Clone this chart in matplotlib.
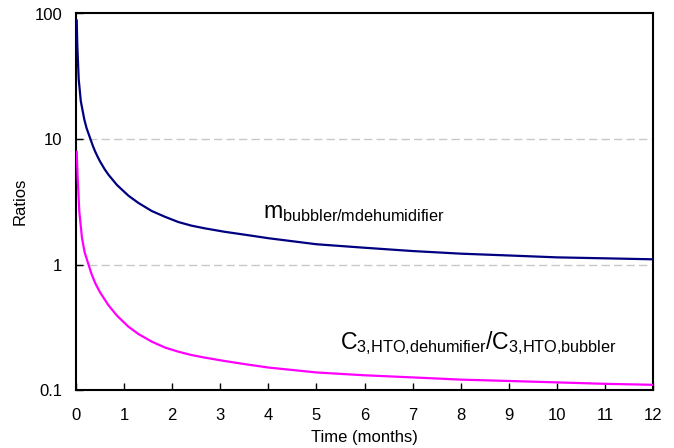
import matplotlib
matplotlib.use("Agg")
import matplotlib.pyplot as plt
from matplotlib.ticker import FixedLocator, NullLocator, FixedFormatter

plt.rcParams['font.family'] = ['Liberation Sans', 'DejaVu Sans']
plt.rcParams['mathtext.fontset'] = 'custom'
plt.rcParams['mathtext.rm'] = 'Liberation Sans'
plt.rcParams['mathtext.it'] = 'Liberation Sans'

# Data
t_m = [0.015, 0.027, 0.056, 0.10, 0.173, 0.22, 0.30, 0.35, 0.395, 0.45, 0.50,
       0.60, 0.672, 0.85, 1.088, 1.3, 1.574, 1.85, 2.128, 2.4, 2.683, 3.1, 3.5,
       4.0, 5.0, 6.0, 7.0, 8.0, 9.0, 10.0, 11.0, 12.0]
m_ratio = [88, 56, 30, 20.0, 14.3, 12.2, 10.0, 8.83, 8.0, 7.22, 6.62,
           5.71, 5.21, 4.31, 3.54, 3.09, 2.67, 2.40, 2.18, 2.04, 1.94, 1.82, 1.73,
           1.62, 1.45, 1.36, 1.28, 1.22, 1.18, 1.14, 1.12, 1.10]

t_c = [0.015, 0.035, 0.069, 0.125, 0.18, 0.26, 0.32, 0.40, 0.50, 0.672, 0.85,
       1.088, 1.3, 1.574, 1.85, 2.128, 2.4, 2.683, 3.1, 3.5, 4.0, 5.0, 6.0,
       7.0, 8.0, 9.0, 10.0, 11.0, 12.0]
c_ratio = [7.9, 4.86, 2.63, 1.62, 1.25, 1.0, 0.846, 0.71, 0.60, 0.475, 0.392,
           0.32, 0.279, 0.243, 0.218, 0.202, 0.190, 0.181, 0.170, 0.161, 0.151,
           0.138, 0.131, 0.126, 0.121, 0.118, 0.115, 0.112, 0.110]

x_ticks = list(range(0, 13))
y_ticks = [0.1, 1, 10, 100]
y_tick_labels = ['0.1', '1', '10', '100']
grid_levels = [1, 10]

fig = plt.figure(figsize=(6.74, 4.48), dpi=100)
ax = fig.add_axes([76 / 674, 1 - 390 / 448, (653 - 76) / 674, (390 - 13.5) / 448])

for g in grid_levels:
    ax.axhline(g, color='#c8c8c8', lw=1.0, ls=(0, (6, 3)), zorder=1)

ax.plot(t_m, m_ratio, color='#000080', lw=1.6, zorder=3, solid_joinstyle='round')
ax.plot(t_c, c_ratio, color='#ff00ff', lw=1.6, zorder=3, solid_joinstyle='round')

ax.set_yscale('log')
ax.set_xlim(0, 12)
ax.set_ylim(0.1, 100)
ax.xaxis.set_major_locator(FixedLocator(x_ticks))
ax.yaxis.set_major_locator(FixedLocator(y_ticks))
ax.yaxis.set_major_formatter(FixedFormatter(y_tick_labels))
ax.yaxis.set_minor_locator(NullLocator())
ax.tick_params(axis='both', direction='in', length=5, width=1, labelsize=12,
               colors='black')
ax.tick_params(axis='x', pad=13)
ax.tick_params(axis='y', pad=10)

for s in ax.spines.values():
    s.set_linewidth(1.5)
    s.set_color('black')

ax.set_xlabel('Time (months)', fontsize=12, labelpad=5)
ax.set_ylabel('Ratios', fontsize=12, labelpad=5)

ax.text(263, 448 - 218, r'$\mathrm{m}_{\mathrm{bubbler/mdehumidifier}}$', fontsize=16.7,
        transform=None, ha='left', va='baseline')
ax.text(340, 448 - 349,
        r'$\mathrm{C}_{\mathrm{3{,}HTO{,}dehumifier}}\mathrm{/C}_{\mathrm{3{,}HTO{,}bubbler}}$',
        fontsize=16.7, transform=None, ha='left', va='baseline')

fig.savefig('out.png', dpi=100)
